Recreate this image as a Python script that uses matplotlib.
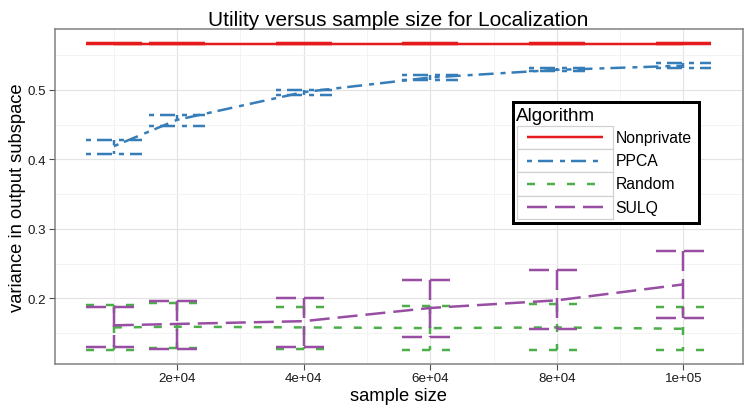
import matplotlib
matplotlib.use("Agg")
import matplotlib.pyplot as plt
from matplotlib.lines import Line2D
from matplotlib.patches import Rectangle
import numpy as np

# === DATA ===
sample_size = [1e4, 2e4, 4e4, 6e4, 8e4, 1e5]
algorithms = ["Nonprivate", "PPCA", "Random", "SULQ"]

mean_vals = {
    "Nonprivate": [0.5665, 0.5665, 0.5665, 0.5665, 0.5665, 0.5665],
    "PPCA":       [0.419, 0.457, 0.497, 0.518, 0.529, 0.535],
    "Random":     [0.158, 0.159, 0.158, 0.157, 0.158, 0.156],
    "SULQ":       [0.161, 0.163, 0.167, 0.186, 0.197, 0.220],
}
upper_vals = {
    "Nonprivate": [0.5672, 0.5672, 0.5672, 0.5672, 0.5672, 0.5672],
    "PPCA":       [0.428, 0.464, 0.500, 0.521, 0.531, 0.539],
    "Random":     [0.190, 0.193, 0.188, 0.189, 0.192, 0.188],
    "SULQ":       [0.188, 0.196, 0.201, 0.226, 0.241, 0.268],
}
lower_vals = {
    "Nonprivate": [0.5658, 0.5658, 0.5658, 0.5658, 0.5658, 0.5658],
    "PPCA":       [0.408, 0.448, 0.493, 0.514, 0.527, 0.531],
    "Random":     [0.126, 0.128, 0.127, 0.126, 0.126, 0.125],
    "SULQ":       [0.130, 0.127, 0.130, 0.144, 0.155, 0.172],
}

# === STYLE ===
px = 0.72  # points per pixel at dpi 100
colors = {"Nonprivate": "#E41A1C", "PPCA": "#377EB8",
          "Random": "#4DAF4A", "SULQ": "#984EA3"}
dashes = {"Nonprivate": None,
          "PPCA": [5 * px, 6 * px, 15 * px, 7 * px],
          "Random": [8 * px, 12 * px],
          "SULQ": [20 * px, 8 * px]}
lw = 2.5 * px
bar_half = 4400

plt.rcParams["font.family"] = ["Liberation Sans", "DejaVu Sans"]
plt.rcParams["lines.scale_dashes"] = False

fig = plt.figure(figsize=(7.45, 4.06), dpi=100)
ax = fig.add_axes([54.7 / 745, 41 / 406, (742.5 - 54.7) / 745, (365 - 29.7) / 406])


def style_line(line, name):
    if dashes[name] is not None:
        line.set_dashes(dashes[name])
    line.set_dash_capstyle("butt")
    line.set_solid_capstyle("butt")


for name in algorithms:
    xs, ys = [], []
    for x, lo, hi in zip(sample_size, lower_vals[name], upper_vals[name]):
        xs += [x - bar_half, x + bar_half, np.nan, x, x, np.nan,
               x - bar_half, x + bar_half, np.nan]
        ys += [hi, hi, np.nan, hi, lo, np.nan, lo, lo, np.nan]
    l1, = ax.plot(xs, ys, color=colors[name], lw=lw)
    style_line(l1, name)
    l2, = ax.plot(sample_size, mean_vals[name], color=colors[name], lw=lw)
    style_line(l2, name)

ax.set_xlim(660, 109340)
ax.set_ylim(0.1053, 0.5883)
ax.set_xticks([2e4, 4e4, 6e4, 8e4, 1e5])
ax.set_xticklabels(["2e+04", "4e+04", "6e+04", "8e+04", "1e+05"])
ax.set_xticks([1e4, 3e4, 5e4, 7e4, 9e4], minor=True)
ax.set_yticks([0.2, 0.3, 0.4, 0.5])
ax.set_yticklabels(["0.2", "0.3", "0.4", "0.5"])
ax.set_yticks([0.15, 0.25, 0.35, 0.45, 0.55], minor=True)
ax.grid(True, which="major", color="#e3e3e3", lw=1.2 * px)
ax.grid(True, which="minor", color="#f3f3f3", lw=1.0 * px)
ax.set_axisbelow(True)
ax.tick_params(which="major", length=4, width=0.8, color="#4d4d4d",
               labelsize=9.6, labelcolor="#1a1a1a", pad=2)
ax.tick_params(which="minor", length=0)
for s in ax.spines.values():
    s.set_color("#7f7f7f")
    s.set_linewidth(1.5 * px)

ax.set_title("Utility versus sample size for Localization", fontsize=15, pad=3)
ax.set_xlabel("sample size", fontsize=13.2, labelpad=2)
ax.set_ylabel("variance in output subspace", fontsize=13.2, labelpad=1)

# === LEGEND (drawn by hand, ggplot style) ===
def fx(x):
    return x / 745


def fy(y):
    return 1 - y / 406


fig.patches.append(Rectangle((fx(512.5), fy(224)), fx(699) - fx(512.5),
                             fy(102.5) - fy(224), transform=fig.transFigure,
                             facecolor="white", edgecolor="black", lw=3 * px,
                             zorder=5))
fig.text(fx(516), fy(116.5), "Algorithm", fontsize=13.6, va="center",
         ha="left", zorder=6)
row_edges = [126.7, 150, 173.3, 196.7, 220]
for i, name in enumerate(algorithms):
    top, bot = row_edges[i], row_edges[i + 1]
    fig.patches.append(Rectangle((fx(517.3), fy(bot)), fx(612.7) - fx(517.3),
                                 fy(top) - fy(bot), transform=fig.transFigure,
                                 facecolor="white", edgecolor="#d0d0d0",
                                 lw=1.2 * px, zorder=6))
    yc = fy((top + bot) / 2)
    ln = Line2D([fx(527), fx(603)], [yc, yc], transform=fig.transFigure,
                color=colors[name], lw=lw, zorder=7)
    style_line(ln, name)
    fig.lines.append(ln)
    fig.text(fx(615.5), yc, name, fontsize=11.3, va="center", ha="left",
             zorder=7)

fig.savefig("out.png", dpi=100)
